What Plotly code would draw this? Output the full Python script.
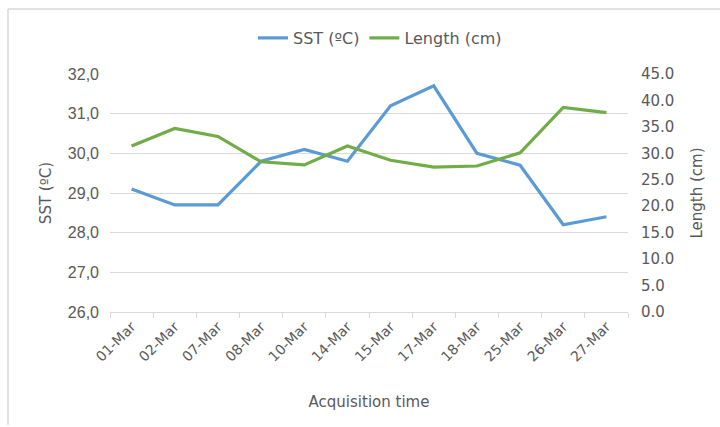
import plotly.graph_objects as go

# Acquisition dates (categorical x axis)
dates = ["01-Mar", "02-Mar", "07-Mar", "08-Mar", "10-Mar", "14-Mar",
         "15-Mar", "17-Mar", "18-Mar", "25-Mar", "26-Mar", "27-Mar"]

# Sea surface temperature (°C), left axis
sst = [29.1, 28.7, 28.7, 29.8, 30.1, 29.8, 31.2, 31.7, 30.0, 29.7, 28.2, 28.4]

# Length (cm), right axis
length = [31.4, 34.7, 33.2, 28.4, 27.8, 31.4, 28.7, 27.4, 27.6, 30.1, 38.7, 37.7]

# Left axis ticks use a decimal comma
sst_ticks = [26, 27, 28, 29, 30, 31, 32]
sst_ticktext = ["26,0", "27,0", "28,0", "29,0", "30,0", "31,0", "32,0"]

BLUE = "#5B9BD5"
GREEN = "#70AD47"
TEXT = "#595959"
GRID = "#D9D9D9"

fig = go.Figure()
fig.add_trace(go.Scatter(x=dates, y=sst, name="SST (ºC)", mode="lines",
                         line=dict(color=BLUE, width=3.2), yaxis="y"))
fig.add_trace(go.Scatter(x=dates, y=length, name="Length (cm)", mode="lines",
                         line=dict(color=GREEN, width=3.2), yaxis="y2"))

W, H = 720, 427
L, R, T, B = 110, 628, 74, 312


def px(x):
    return (x - L) / (R - L)


def py(y):
    return (B - y) / (B - T)


fig.update_layout(
    width=W, height=H,
    margin=dict(l=L, r=W - R, t=T, b=H - B),
    paper_bgcolor="white", plot_bgcolor="white",
    font=dict(family="DejaVu Sans", size=14, color=TEXT),
    showlegend=True,
    legend=dict(orientation="h", x=px(380), xanchor="center",
                y=py(38), yanchor="middle",
                font=dict(family="DejaVu Sans", size=16, color=TEXT),
                bgcolor="rgba(0,0,0,0)"),
    xaxis=dict(
        type="category", tickangle=-45, range=[-0.5, len(dates) - 0.5],
        tickson="boundaries", ticks="outside", ticklen=5, tickcolor=GRID,
        showline=True, linecolor=GRID, linewidth=1,
        showgrid=False, zeroline=False,
        tickfont=dict(family="DejaVu Sans", size=14, color=TEXT),
        title=dict(text="Acquisition time", standoff=32,
                   font=dict(family="DejaVu Sans", size=15, color=TEXT)),
    ),
    yaxis=dict(
        range=[26, 32], tickvals=sst_ticks, ticktext=sst_ticktext,
        showgrid=True, gridcolor=GRID, gridwidth=1, zeroline=False,
        showline=False, ticks="", ticklabelstandoff=10,
        tickfont=dict(family="Liberation Sans", size=16, color=TEXT),
        title=dict(text="SST (ºC)", standoff=12,
                   font=dict(family="DejaVu Sans", size=15, color=TEXT)),
    ),
    yaxis2=dict(
        range=[0, 45], dtick=5, tick0=0, tickformat=".1f",
        overlaying="y", side="right",
        showgrid=False, zeroline=False, showline=False, ticks="",
        ticklabelstandoff=12,
        tickfont=dict(family="DejaVu Sans", size=15, color=TEXT),
        title=dict(text="Length (cm)", standoff=18,
                   font=dict(family="DejaVu Sans", size=15, color=TEXT)),
    ),
)

# Light frame edges (left and top) around the chart area
fig.add_shape(type="line", xref="paper", yref="paper",
              x0=px(8), x1=px(8), y0=py(425), y1=py(9),
              line=dict(color=GRID, width=1.5), layer="below")
fig.add_shape(type="line", xref="paper", yref="paper",
              x0=px(8), x1=px(740), y0=py(9), y1=py(9),
              line=dict(color=GRID, width=1.5), layer="below")

fig.write_html("out.html")
